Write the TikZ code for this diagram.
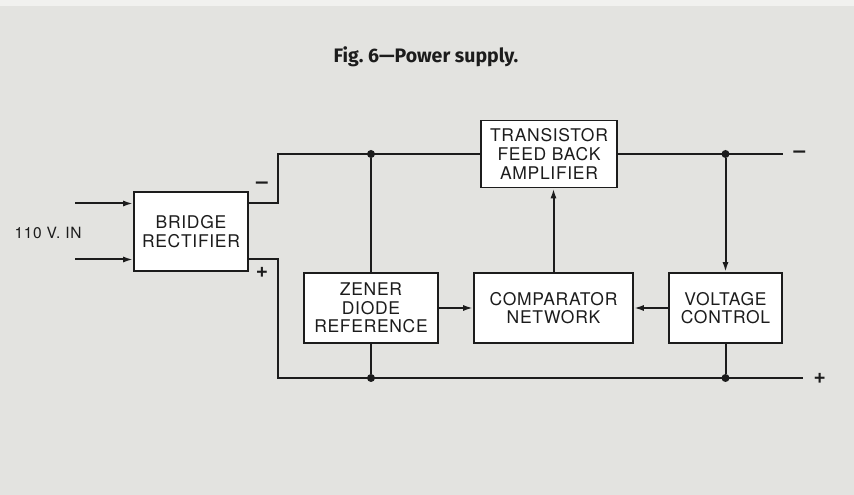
\documentclass[tikz,border=0pt]{standalone}
\usepackage{fontspec}
\usetikzlibrary{arrows.meta,positioning}
\setsansfont{TeX Gyre Heros}
\newfontfamily\lettering[LetterSpace=4]{TeX Gyre Heros}
\newfontfamily\captionfont[Ligatures=TeX]{Fira Sans}
\definecolor{Paper}{HTML}{E3E3E0}
\definecolor{Edge}{HTML}{F1F1EF}
\definecolor{Ink}{HTML}{1C1C1C}
\tikzset{>=Latex,
 every node/.style={text=Ink},
 wire/.style={line width=2pt,draw=Ink},
 arr/.style={-{Latex[length=10pt,width=6pt]},line width=2pt,draw=Ink},
 dot/.style={circle,fill=Ink,inner sep=0pt,minimum size=8pt},
 block/.style={draw=Ink,line width=1.6pt,fill=white,align=center,inner sep=0pt,font=\lettering\fontsize{17.5}{18.7}\selectfont},
 sign/.style={font=\sffamily\bfseries\fontsize{21}{22}\selectfont},
 }

\begin{document}
\begin{tikzpicture}[x=1pt,y=1pt]
 \fill[Paper](0,0)rectangle(854,495);
 \fill[Edge](0,489)rectangle(854,495);
 \node[font=\captionfont\bfseries\fontsize{19.5}{21}\selectfont](title)at(426,438){Fig.\ 6---Power supply.};
 % blocks
 \node[block,minimum width=114pt,minimum height=79pt](br)at(191,263.5){BRIDGE\\RECTIFIER};
 \node[block,minimum width=136pt,minimum height=67pt](amp)at(549,341){TRANSISTOR\\FEED BACK\\AMPLIFIER};
 \node[block,minimum width=134pt,minimum height=70pt](zen)at(371,187){ZENER\\DIODE\\REFERENCE};
 \node[block,minimum width=159pt,minimum height=70pt](cmp)at(553.5,187){COMPARATOR\\NETWORK};
 \node[block,minimum width=113pt,minimum height=70pt](vc)at(725.5,187){VOLTAGE\\CONTROL};
 % input
 \coordinate(in1)at(75,291.5);\coordinate(in2)at(75,235.5);
 \node[font=\lettering\fontsize{15.5}{16}\selectfont](ac)at(48,262){110 V. IN};
 \draw[arr](in1)--(in1-|br.west);\draw[arr](in2)--(in2-|br.west);
 % rails
 \coordinate(tl)at(278,341);\coordinate(bl)at(278,117);
 \coordinate(tr)at(783,341);\coordinate(brt)at(803,117);
 \draw[wire](br.east|-in1)-|(tl)--(amp.west);\draw[wire](amp.east)--(tr);
 \draw[wire](br.east|-in2)-|(bl)--(brt);
 \node[sign](m1)at(262,310){–};\node[sign](p1)at(262,223){+};
 \node[sign,right=7pt of tr](m2){–};\node[sign,right=7pt of brt](p2){+};
 % taps
 \node[dot](d1)at(zen.north|-tl){};\node[dot](d2)at(vc.north|-tl){};
 \node[dot](d3)at(zen.south|-bl){};\node[dot](d4)at(vc.south|-bl){};
 \draw[wire](d1)--(zen);\draw[arr](d2)--(vc);
 \draw[wire](d3)--(zen);\draw[wire](d4)--(vc);
 \draw[arr](zen)--(cmp);\draw[arr](vc)--(cmp);
 \draw[arr](cmp.north)--(cmp.north|-amp.south);
\end{tikzpicture}
\end{document}
